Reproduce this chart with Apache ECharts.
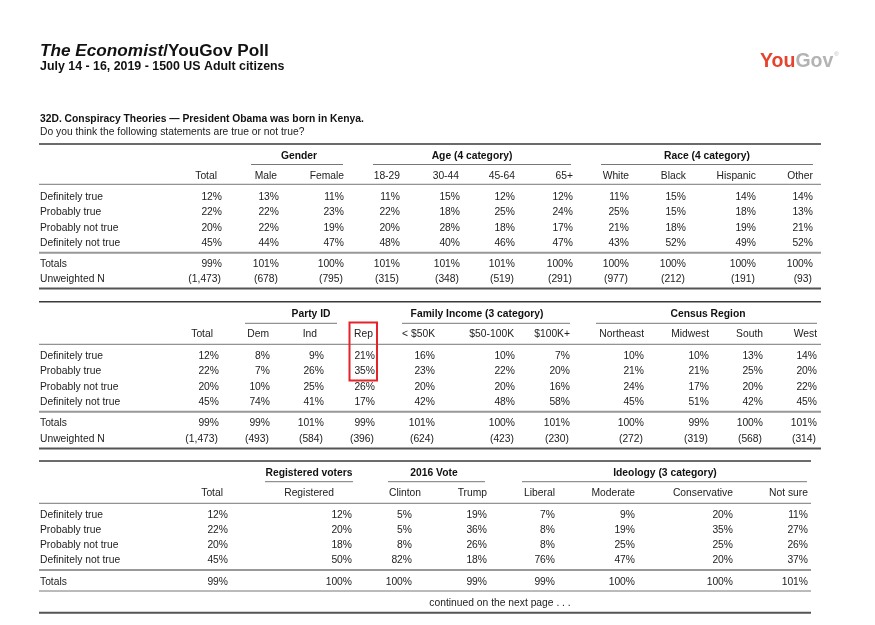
<!DOCTYPE html>
<html>
<head>
<meta charset="utf-8">
<script src="https://cdn.jsdelivr.net/npm/echarts@6/dist/echarts.min.js"></script>
<style>
html,body{margin:0;padding:0;background:#fff;}
#chart{width:875px;height:625px;}
</style>
</head>
<body>
<div id="chart"></div>
<script>
// ---------------- DATA ----------------
const titleMain = 'The Economist';
const titleRest = '/YouGov Poll';
const subtitle = 'July 14 - 16, 2019 - 1500 US Adult citizens';
const questionTitle = '32D. Conspiracy Theories \u2014 President Obama was born in Kenya.';
const questionText = 'Do you think the following statements are true or not true?';
const rowLabels = ['Definitely true', 'Probably true', 'Probably not true', 'Definitely not true'];
const totalsLabel = 'Totals';
const nLabel = 'Unweighted N';
const continuedText = 'continued on the next page . . .';

// Table 1
const t1Groups = ['Gender', 'Age (4 category)', 'Race (4 category)'];
const t1Cols = ['Total', 'Male', 'Female', '18-29', '30-44', '45-64', '65+', 'White', 'Black', 'Hispanic', 'Other'];
const t1DefTrue    = [12, 13, 11, 11, 15, 12, 12, 11, 15, 14, 14];
const t1ProbTrue   = [22, 22, 23, 22, 18, 25, 24, 25, 15, 18, 13];
const t1ProbNot    = [20, 22, 19, 20, 28, 18, 17, 21, 18, 19, 21];
const t1DefNot     = [45, 44, 47, 48, 40, 46, 47, 43, 52, 49, 52];
const t1Totals     = [99, 101, 100, 101, 101, 101, 100, 100, 100, 100, 100];
const t1N          = ['1,473', '678', '795', '315', '348', '519', '291', '977', '212', '191', '93'];

// Table 2
const t2Groups = ['Party ID', 'Family Income (3 category)', 'Census Region'];
const t2Cols = ['Total', 'Dem', 'Ind', 'Rep', '< $50K', '$50-100K', '$100K+', 'Northeast', 'Midwest', 'South', 'West'];
const t2DefTrue    = [12, 8, 9, 21, 16, 10, 7, 10, 10, 13, 14];
const t2ProbTrue   = [22, 7, 26, 35, 23, 22, 20, 21, 21, 25, 20];
const t2ProbNot    = [20, 10, 25, 26, 20, 20, 16, 24, 17, 20, 22];
const t2DefNot     = [45, 74, 41, 17, 42, 48, 58, 45, 51, 42, 45];
const t2Totals     = [99, 99, 101, 99, 101, 100, 101, 100, 99, 100, 101];
const t2N          = ['1,473', '493', '584', '396', '624', '423', '230', '272', '319', '568', '314'];

// Table 3
const t3Groups = ['Registered voters', '2016 Vote', 'Ideology (3 category)'];
const t3Cols = ['Total', 'Registered', 'Clinton', 'Trump', 'Liberal', 'Moderate', 'Conservative', 'Not sure'];
const t3DefTrue    = [12, 12, 5, 19, 7, 9, 20, 11];
const t3ProbTrue   = [22, 20, 5, 36, 8, 19, 35, 27];
const t3ProbNot    = [20, 18, 8, 26, 8, 25, 25, 26];
const t3DefNot     = [45, 50, 82, 18, 76, 47, 20, 37];
const t3Totals     = [99, 100, 100, 99, 99, 100, 100, 101];

// ---------------- LAYOUT ----------------
const FONT = "'Liberation Sans', Arial, Helvetica, sans-serif";
const FS = 10.3;
const TXT = '#222';
const LEFT = 39;

const layouts = [
  {
    right: 821,
    valueRight:  [222, 279, 344, 400, 460, 515, 573, 629, 686, 756, 813],
    headerRight: [217, 277, 344, 400, 459, 515, 573, 629, 686, 756, 813],
    groupCenter: [299, 472, 707],
    groupLine: [[251, 343], [373, 571], [601, 813]],
    y: { top: 144, group: 155.7, underline: 164.5, hdr: 176, hdrLine: 184.3,
         rows: [197.3, 212.5, 227.8, 243.3], totLine: 252.8, tot: 264.3, n: 278.8, bottom: 288.6 }
  },
  {
    right: 821,
    valueRight:  [219, 270, 324, 375, 435, 515, 570, 644, 709, 763, 817],
    headerRight: [213, 269, 317, 373, 435, 514, 570, 644, 709, 763, 817],
    groupCenter: [311, 477, 708],
    groupLine: [[245, 337], [402, 570], [596, 817]],
    y: { top: 301.7, group: 314, underline: 323.3, hdr: 334.3, hdrLine: 344.3,
         rows: [356, 371.3, 386.7, 402], totLine: 411.7, tot: 423.3, n: 439, bottom: 448.5 }
  },
  {
    right: 811,
    valueRight:  [228, 352, 412, 487, 555, 635, 733, 808],
    headerRight: [223, 334, 421, 487, 555, 635, 733, 808],
    groupCenter: [309, 434, 665],
    groupLine: [[265, 353], [388, 485], [522, 807]],
    y: { top: 461, group: 473.3, underline: 481.7, hdr: 493.3, hdrLine: 503.3,
         rows: [515, 530, 545, 560.3], totLine: 570, tot: 581.7, totLine2: 591, cont: 603.3, bottom: 612.7 }
  }
];

// ---------------- BUILD ----------------
const els = [];
function text(x, y, s, o) {
  o = o || {};
  els.push({
    type: 'text', x: x, y: y, silent: true,
    style: {
      text: s, fill: o.fill || TXT,
      fontSize: o.size || FS, fontWeight: o.weight || 'normal', fontStyle: o.style || 'normal',
      fontFamily: FONT,
      align: o.align || 'left', verticalAlign: 'middle',
      textAlign: o.align || 'left', textVerticalAlign: 'middle',
      rich: o.rich
    }
  });
}
function line(x1, y1, x2, y2, stroke, w) {
  els.push({ type: 'line', silent: true, shape: { x1: x1, y1: y1, x2: x2, y2: y2 },
             style: { stroke: stroke, lineWidth: w } });
}

// Header
els.push({
  type: 'text', x: 40, y: 51.5, silent: true,
  style: {
    text: '{a|' + titleMain + '}{b|' + titleRest + '}',
    verticalAlign: 'middle', textVerticalAlign: 'middle',
    rich: {
      a: { fontSize: 17.2, fontWeight: 'bold', fontStyle: 'italic', fontFamily: FONT, fill: '#111' },
      b: { fontSize: 17.2, fontWeight: 'bold', fontFamily: FONT, fill: '#111' }
    }
  }
});
text(40, 66.8, subtitle, { size: 12.4, weight: 'bold', fill: '#111' });

// Logo
els.push({
  type: 'text', x: 760, y: 61.5, silent: true,
  style: {
    text: '{r|You}{g|Gov}{s|\u00ae}',
    verticalAlign: 'middle', textVerticalAlign: 'middle',
    rich: {
      r: { fontSize: 19.5, fontWeight: 'bold', fontFamily: FONT, fill: '#e5432d' },
      g: { fontSize: 19.5, fontWeight: 'bold', fontFamily: FONT, fill: '#b3b3b3' },
      s: { fontSize: 6, fontFamily: FONT, fill: '#b3b3b3', verticalAlign: 'top', padding: [0, 0, 12, 1] }
    }
  }
});

text(40, 119, questionTitle, { weight: 'bold', fill: '#111' });
text(40, 132, questionText);

const pct = v => v + '%';
const tables = [
  { groups: t1Groups, cols: t1Cols, rows: [t1DefTrue, t1ProbTrue, t1ProbNot, t1DefNot], totals: t1Totals, n: t1N },
  { groups: t2Groups, cols: t2Cols, rows: [t2DefTrue, t2ProbTrue, t2ProbNot, t2DefNot], totals: t2Totals, n: t2N },
  { groups: t3Groups, cols: t3Cols, rows: [t3DefTrue, t3ProbTrue, t3ProbNot, t3DefNot], totals: t3Totals, n: null }
];

tables.forEach((t, ti) => {
  const L = layouts[ti];
  const Y = L.y;
  line(LEFT, Y.top, L.right, Y.top, '#3a3a3a', 1.5);
  t.groups.forEach((g, gi) => {
    text(L.groupCenter[gi], Y.group, g, { weight: 'bold', align: 'center', fill: '#111' });
    line(L.groupLine[gi][0], Y.underline, L.groupLine[gi][1], Y.underline, '#777', 1);
  });
  t.cols.forEach((c, ci) => text(L.headerRight[ci], Y.hdr, c, { align: 'right' }));
  line(LEFT, Y.hdrLine, L.right, Y.hdrLine, '#777', 1);
  t.rows.forEach((r, ri) => {
    text(40, Y.rows[ri], rowLabels[ri]);
    r.forEach((v, ci) => text(L.valueRight[ci], Y.rows[ri], pct(v), { align: 'right' }));
  });
  line(LEFT, Y.totLine, L.right, Y.totLine, '#999', 2);
  text(40, Y.tot, totalsLabel);
  t.totals.forEach((v, ci) => text(L.valueRight[ci], Y.tot, pct(v), { align: 'right' }));
  if (t.n) {
    text(40, Y.n, nLabel);
    t.n.forEach((v, ci) => text(L.valueRight[ci] - 1, Y.n, '(' + v + ')', { align: 'right' }));
  }
  if (Y.totLine2) {
    line(LEFT, Y.totLine2, L.right, Y.totLine2, '#777', 1);
    text(500, Y.cont, continuedText, { align: 'center' });
  }
  line(LEFT, Y.bottom, L.right, Y.bottom, '#555', 2);
});

// Highlight box around Rep column (Definitely / Probably true)
els.push({
  type: 'rect', silent: true,
  shape: { x: 349.5, y: 322.5, width: 27.5, height: 58 },
  style: { fill: 'none', stroke: '#e3242b', lineWidth: 2 }
});

const chart = echarts.init(document.getElementById('chart'), null, { renderer: 'canvas' });
chart.setOption({
  backgroundColor: '#fff',
  animation: false,
  graphic: { elements: els }
});
</script>
</body>
</html>
